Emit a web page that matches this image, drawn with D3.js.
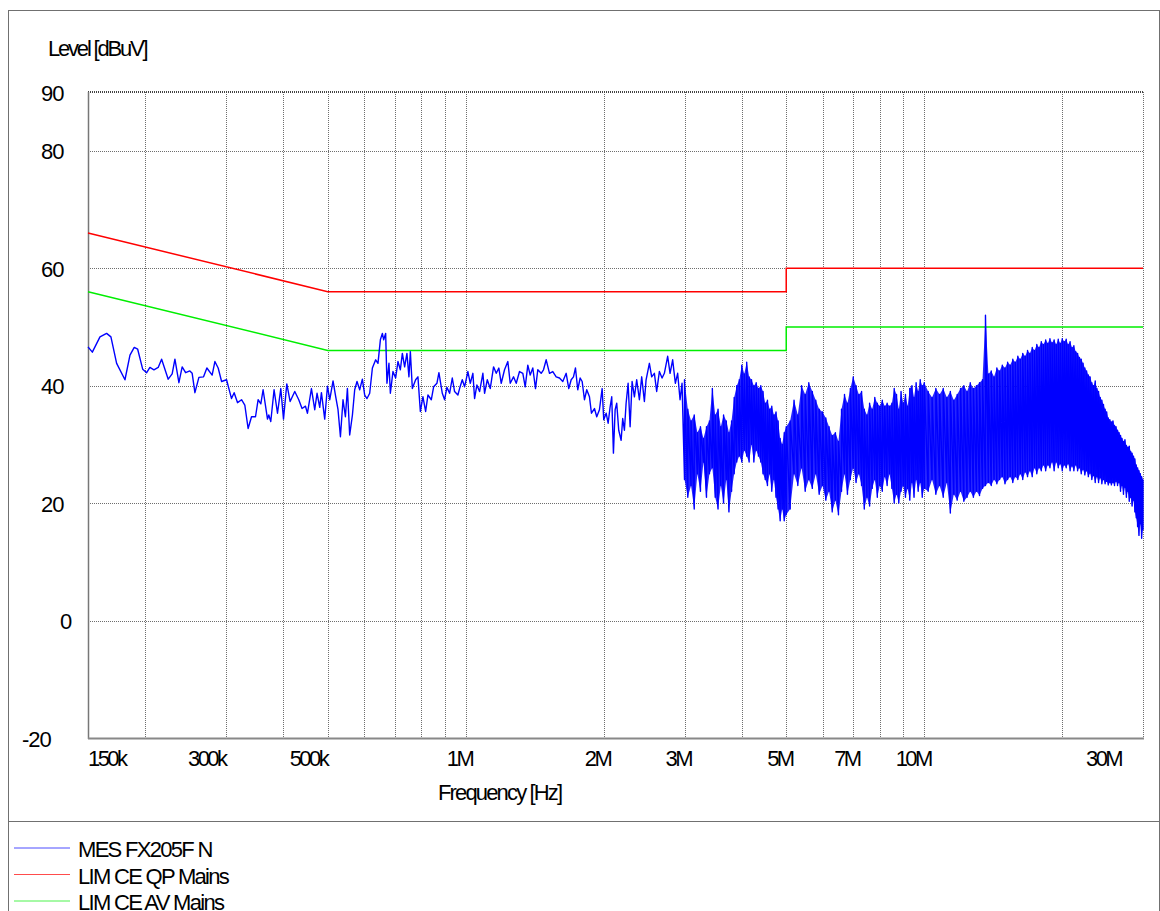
<!DOCTYPE html>
<html><head><meta charset="utf-8">
<script src="https://cdn.jsdelivr.net/npm/d3@7"></script>
<style>
html,body{margin:0;padding:0;background:#fff;}
svg text{font-family:"Liberation Sans",Arial,sans-serif;fill:#000;}
</style></head><body>
<svg id="chart" width="1160" height="911"></svg>
<script>
// ---------- data ----------
const yTicks = [90, 80, 60, 40, 20, 0, -20];
const xGridMHz = [0.2,0.3,0.4,0.5,0.6,0.7,0.8,0.9,1,2,3,4,5,6,7,8,9,10,20,30];
const xTickValues = [0.15, 0.3, 0.5, 1, 2, 3, 5, 7, 10, 30];
const xTickLabels = ["150k","300k","500k","1M","2M","3M","5M","7M","10M","30M"];
const yTitle = "Level [dBuV]";
const xTitle = "Frequency [Hz]";
const seriesNames = ["MES FX205F N", "LIM CE QP Mains", "LIM CE AV Mains"];
const seriesColors = ["#0000ff", "#ff0000", "#00ee00"];

// limit lines [MHz, dBuV]
const limitQP = [[0.15,66],[0.5,56],[5,56],[5,60],[30,60]];
const limitAV = [[0.15,56],[0.5,46],[5,46],[5,50],[30,50]];

// measurement below 3 MHz [MHz, dBuV]
const measLow = [
[0.150,46.6],[0.1533,45.7],[0.1593,48.3],[0.1647,48.9],[0.1683,48.3],[0.1732,43.8],[0.1806,41.0],[0.1852,45.2],[0.1892,46.5],[0.1925,46.2],
[0.1974,42.8],[0.2014,42.2],[0.2047,43.1],[0.2089,42.7],[0.2134,43.1],[0.2171,44.5],[0.2244,41.1],[0.2289,42.0],[0.2321,44.5],[0.2368,40.5],
[0.2407,43.2],[0.2449,42.2],[0.2502,42.5],[0.2531,42.1],[0.2566,38.8],[0.2618,41.4],[0.2680,41.5],[0.2725,43.0],[0.2798,41.8],[0.2837,44.1],
[0.2884,43.0],[0.2934,40.7],[0.3008,41.0],[0.3084,37.8],[0.3125,38.8],[0.3179,37.1],[0.3243,37.6],[0.3297,36.7],[0.3352,32.7],[0.3410,34.7],
[0.3479,34.7],[0.3525,37.6],[0.3573,36.9],[0.3614,39.3],[0.3695,34.3],[0.3719,35.0],[0.3756,33.9],[0.3819,39.3],[0.3885,35.3],[0.3950,39.5],
[0.4004,34.3],[0.4071,40.3],[0.4139,37.3],[0.4237,39.0],[0.4323,37.6],[0.4395,36.1],[0.4471,36.5],[0.4516,35.3],[0.4607,39.5],[0.4684,35.9],
[0.4739,38.7],[0.4803,36.3],[0.4844,38.8],[0.4925,34.3],[0.4993,39.9],[0.5051,37.6],[0.5135,40.8],[0.5205,38.1],[0.5265,35.9],[0.5329,31.3],
[0.5399,37.6],[0.5464,34.7],[0.5519,39.5],[0.5583,31.6],[0.5660,35.0],[0.5725,39.3],[0.5792,40.7],[0.5871,39.3],[0.5950,41.1],[0.6020,38.4],
[0.6090,37.8],[0.6173,38.7],[0.6257,43.0],[0.6361,44.4],[0.6435,43.8],[0.6513,47.8],[0.6579,48.9],[0.6622,47.8],[0.6688,48.9],[0.6732,40.4],
[0.6800,43.8],[0.6848,38.7],[0.6938,42.4],[0.7032,41.3],[0.7114,44.1],[0.7200,42.7],[0.7273,45.5],[0.7357,43.2],[0.7442,45.5],[0.7518,41.5],
[0.7571,45.8],[0.7647,39.5],[0.7775,41.0],[0.7865,41.5],[0.7961,35.6],[0.8065,38.1],[0.8175,35.6],[0.8270,38.4],[0.8412,37.6],[0.8510,39.8],
[0.8652,40.4],[0.8739,42.2],[0.8889,38.7],[0.8992,37.6],[0.9097,39.7],[0.9221,38.7],[0.9346,41.3],[0.9455,39.0],[0.9613,38.4],[0.9695,39.5],
[0.9827,41.0],[0.9941,39.8],[1.0107,42.4],[1.0230,40.4],[1.0364,42.1],[1.0453,37.8],[1.0574,40.1],[1.0719,39.0],[1.0898,42.1],[1.0991,38.7],
[1.1141,41.0],[1.1309,39.5],[1.1498,43.2],[1.1655,42.1],[1.1808,43.0],[1.1951,40.4],[1.2150,42.7],[1.2353,44.1],[1.2503,40.4],[1.2711,41.5],
[1.2885,40.4],[1.3100,42.4],[1.3319,42.1],[1.3480,39.8],[1.3657,43.5],[1.3822,41.8],[1.4004,43.0],[1.4195,39.5],[1.4360,42.7],[1.4606,42.1],
[1.4776,42.7],[1.4978,44.4],[1.5228,42.1],[1.5482,42.4],[1.5748,41.5],[1.6011,41.3],[1.6279,40.7],[1.6559,42.1],[1.6776,39.5],[1.6980,41.0],
[1.7177,41.5],[1.7350,43.0],[1.7551,39.3],[1.7764,41.3],[1.7943,40.7],[1.8151,37.6],[1.8362,39.3],[1.8612,38.1],[1.8800,35.3],[1.9086,36.1],
[1.9307,34.7],[1.9570,35.9],[1.9837,39.5],[1.9997,34.2],[2.0240,35.3],[2.0443,33.6],[2.0650,36.4],[2.0816,38.1],[2.0994,28.5],[2.1174,35.9],
[2.1344,37.0],[2.1560,32.4],[2.1821,30.7],[2.1996,34.4],[2.2184,32.4],[2.2374,37.0],[2.2600,40.4],[2.2828,33.0],[2.3058,40.7],[2.3326,38.1],
[2.3596,41.0],[2.3918,37.6],[2.4196,41.5],[2.4525,37.3],[2.4735,41.0],[2.5148,43.8],[2.5440,41.5],[2.5787,42.1],[2.6086,39.0],[2.6441,42.4],
[2.6802,41.3],[2.7113,42.1],[2.7566,45.0],[2.7900,42.1],[2.8266,44.4],[2.8651,40.4],[2.8984,42.1],[2.9335,37.6],[2.9630,40.4]
];

// measurement above 3 MHz, read as [MHz, lowest dBuV, highest dBuV] per sweep step
const measBand = [
[3.00,24,41],[3.05,21,36],[3.10,23,34],[3.15,19,35],[3.20,25,32],[3.25,22,33],[3.30,27,31],[3.35,21,33],[3.40,25,34],[3.45,26,39.5],
[3.50,21,35],[3.55,19,36],[3.60,23,33],[3.65,20,35],[3.70,24,34],[3.75,18.5,32],[3.80,22,34],[3.85,25,38],[3.90,27,40],[3.95,28,41],
[4.00,27,43.5],[4.05,29,42],[4.10,28,44],[4.15,27,41.5],[4.20,30,41],[4.25,27,40],[4.30,29,40.5],[4.35,28,39.5],[4.40,27,40],[4.45,25,39],
[4.50,24,37],[4.55,23,37.5],[4.60,25,36],[4.65,22,36.5],[4.70,24,35],[4.75,21,35.5],[4.80,19,34],[4.85,17,31],[4.90,19,30],[4.95,17,32],
[5.00,18,33],[5.1,19,34],[5.2,25,37.5],[5.3,23,35],[5.4,26,40],[5.5,22,38.5],[5.6,24,40.5],[5.7,22.5,39],[5.8,25,37.5],[5.9,21.5,36],
[6.0,23,35.5],[6.1,20.5,34.5],[6.2,22,33],[6.3,18.5,31.5],[6.4,20.5,32],[6.5,18,30.5],[6.6,22,36],[6.7,25,38.5],[6.8,21.5,37],[6.9,24,39.5],
[7.0,26,41.5],[7.1,23.5,40],[7.2,25,38.5],[7.3,23,39],[7.4,19,36],[7.5,21,35],[7.6,19.5,37],[7.7,22.5,36],[7.8,24,38],[7.9,21,37],
[8.0,23,36.5],[8.1,22,37.5],[8.2,24.5,36.5],[8.3,23,37],[8.4,25,36.5],[8.5,22.5,37],[8.6,20,39.5],[8.7,21.5,38.5],[8.8,20,36],[8.9,22,39],
[9.0,23,37],[9.1,21,38.5],[9.2,22.5,36.5],[9.3,20.5,39.5],[9.4,23.5,40],[9.5,21,38],[9.6,24,40.5],[9.7,22,39],[9.8,23.5,41],[9.9,21,40],
[10.0,22.5,40.5],[10.2,22,39],[10.4,24,38],[10.6,21.5,39.5],[10.8,23,38.5],[11.0,21,39.5],[11.2,23.5,38],[11.4,18.3,39],[11.6,21.5,37.5],[11.8,20.5,38.5],
[12.0,22,39.5],[12.2,20.3,40],[12.4,21,39],[12.6,22,40.5],[12.8,21,39.5],[13.0,22,40],[13.2,21.3,40.5],[13.4,22.5,41],[13.6,23,52],[13.8,23.5,42],
[14.0,23,42.5],[14.2,24,41.5],[14.4,23.3,43],[14.6,24,42.5],[14.8,24.5,43.5],[15.0,23.3,43],[15.2,24,44],[15.4,24.5,43.5],[15.6,23.5,44.5],[15.8,24.5,44],
[16.0,24,45],[16.2,25,44.5],[16.4,24,45.5],[16.6,25.3,45],[16.8,24.5,46],[17.0,25.5,45.5],[17.2,24.5,46.5],[17.4,26,46],[17.6,25,47],[17.8,26,46.5],
[18.0,25.5,47.5],[18.2,26.5,47],[18.4,25.5,47.8],[18.6,26.5,47.2],[18.8,26,48],[19.0,27,47.3],[19.2,25.5,47.8],[19.4,27,47],[19.6,26,47.9],[19.8,26.7,47.2],
[20.0,25.5,48],[20.2,26.5,47.5],[20.4,26,47.9],[20.6,26.7,47],[20.8,25.5,47.5],[21.0,26.3,46.5],[21.2,25.5,46.8],[21.4,26.5,45.8],[21.6,25.5,45.5],[21.8,26,44.8],
[22.0,25,44.5],[22.2,25.7,43.8],[22.4,24.8,43],[22.6,25.5,42.5],[22.8,24.5,41.8],[23.0,25.1,41.5],[23.2,24,40.5],[23.4,24.7,40],[23.6,23.5,40.8],[23.8,24.5,39.5],
[24.0,23.5,39],[24.2,24.3,38],[24.4,23.3,37.5],[24.6,24,36.8],[24.8,23.3,36],[25.0,23.7,35.5],[25.2,23.1,34.5],[25.4,23.5,34.2],[25.6,23.1,33.8],[25.8,23.5,34],
[26.0,23,33.2],[26.2,23.7,33],[26.4,23,32.4],[26.6,23.5,32],[26.8,22,31.5],[27.0,23,31],[27.2,21.5,30.5],[27.4,22.7,30.8],[27.6,21,29.8],[27.8,22,29.5],
[28.0,20.3,29.7],[28.2,21,28.8],[28.4,19.5,28.5],[28.6,20.5,28],[28.8,18.5,27.5],[29.0,17.5,26.5],[29.2,16,26],[29.4,14.5,25.5],[29.6,16.5,25],[29.8,14,24.5],
[30.0,15.5,24]
];

// ---------- layout ----------
(function () {
const svg = d3.select("#chart");
const pL = 88, pR = 1143, pT = 92, pB = 738;
const x = d3.scaleLog().domain([0.15, 30]).range([pL, pR]);
const y = d3.scaleLinear().domain([-20, 90]).range([pB, pT]);

// outer frame + legend separator
svg.append("rect").attr("x", 8.5).attr("y", 10.5).attr("width", 1151).attr("height", 920)
  .attr("fill", "none").attr("stroke", "#707070").attr("stroke-width", 1);
svg.append("line").attr("x1", 8).attr("x2", 1160).attr("y1", 821.5).attr("y2", 821.5)
  .attr("stroke", "#707070").attr("stroke-width", 1);

// grid
const grid = svg.append("g");
grid.selectAll("line.v").data(xGridMHz).join("line")
  .attr("x1", d => Math.round(x(d)) + 0.5).attr("x2", d => Math.round(x(d)) + 0.5)
  .attr("y1", pT).attr("y2", pB)
  .attr("stroke", "#6e6e6e").attr("stroke-width", 1).attr("stroke-dasharray", "1,1");
grid.selectAll("line.h").data(yTicks.filter(v => v !== -20 && v !== 90)).join("line")
  .attr("x1", pL).attr("x2", pR)
  .attr("y1", d => Math.round(y(d)) + 0.5).attr("y2", d => Math.round(y(d)) + 0.5)
  .attr("stroke", "#6e6e6e").attr("stroke-width", 1).attr("stroke-dasharray", "1,1");
grid.append("line").attr("x1", pL).attr("x2", pR + 1).attr("y1", y(90)).attr("y2", y(90))
  .attr("stroke", "#444").attr("stroke-width", 2).attr("stroke-dasharray", "1,1");
grid.append("line").attr("x1", pL + 0.5).attr("x2", pL + 0.5).attr("y1", pT).attr("y2", pB + 1)
  .attr("stroke", "#777").attr("stroke-width", 1.5);
grid.append("line").attr("x1", pL).attr("x2", pR + 1).attr("y1", pB + 0.5).attr("y2", pB + 0.5)
  .attr("stroke", "#888").attr("stroke-width", 2);

// y tick labels
svg.append("g").selectAll("text").data(yTicks).join("text")
  .attr("x", d => 79 - String(d).length * 19)
  .attr("y", d => y(d) + 8.5)
  .attr("font-size", 22).attr("letter-spacing", "-1px")
  .text(d => String(d));

// x tick labels
svg.append("g").selectAll("text").data(xTickValues).join("text")
  .attr("x", (d, i) => {
    const n = xTickLabels[i].length, w = n * 19;
    let s = x(d) - w / 2;
    return Math.max(pL, Math.min(s, pR - w));
  })
  .attr("y", 766)
  .attr("font-size", 22).attr("letter-spacing", "-2.6px")
  .text((d, i) => xTickLabels[i]);

// titles
svg.append("text").attr("x", 48).attr("y", 56).attr("font-size", 22)
  .attr("letter-spacing", "-2.2px").text(yTitle);
svg.append("text").attr("x", 438).attr("y", 800).attr("font-size", 22)
  .attr("letter-spacing", "-1.85px").text(xTitle);

// limits
const lineGen = d3.line().x(d => x(d[0])).y(d => y(d[1]));
const plot = svg.append("g");
plot.append("path").datum(limitQP).attr("d", lineGen)
  .attr("fill", "none").attr("stroke", seriesColors[1]).attr("stroke-width", 1.5);
plot.append("path").datum(limitAV).attr("d", lineGen)
  .attr("fill", "none").attr("stroke", seriesColors[2]).attr("stroke-width", 1.5);

// measurement band above 3 MHz
const band = d3.area().x(d => x(d[0])).y0(d => y(d[1])).y1(d => y(d[2]));
plot.append("path").datum(measBand).attr("d", band)
  .attr("fill", seriesColors[0]).attr("fill-opacity", 0.85).attr("stroke", "none");
const tracePts = measLow.concat(measBand.flatMap(d => [[d[0], d[1]], [d[0], d[2]]]));
plot.append("path").datum(tracePts).attr("d", lineGen)
  .attr("fill", "none").attr("stroke", seriesColors[0]).attr("stroke-width", 1.4)
  .attr("stroke-linejoin", "round");

// legend
const lg = svg.append("g");
const rowY = [848, 874.5, 901];
seriesNames.forEach((name, i) => {
  lg.append("line").attr("x1", 14).attr("x2", 70).attr("y1", rowY[i]).attr("y2", rowY[i])
    .attr("stroke", seriesColors[i]).attr("stroke-width", 1).attr("stroke-opacity", 0.7);
  lg.append("text").attr("x", 78).attr("y", rowY[i] + 9).attr("font-size", 22)
    .attr("letter-spacing", "-1.7px").text(name);
});
})();
</script>
</body></html>
